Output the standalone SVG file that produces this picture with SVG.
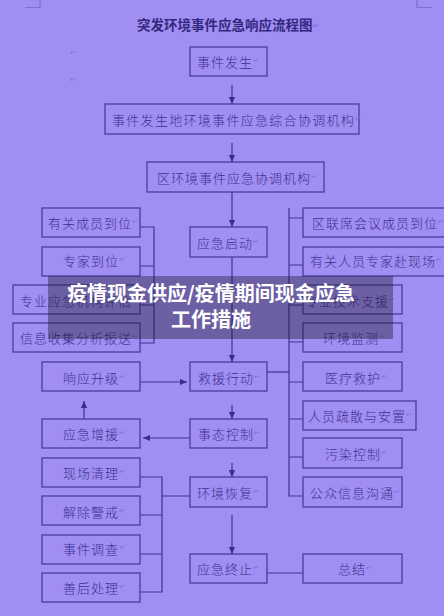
<svg xmlns="http://www.w3.org/2000/svg" width="444" height="616" viewBox="0 0 444 616">
<defs>
<marker id="ah" viewBox="0 0 8 8" refX="8" refY="4" markerWidth="7" markerHeight="7" markerUnits="userSpaceOnUse" orient="auto">
<path d="M0,0.5 L8,4 L0,7.5 z" fill="#3a2d8c"/>
</marker>
<style>
.box{fill:none;stroke:#4a3c9e;stroke-width:1.3}
.t{font-family:"Noto Sans CJK SC","Noto Sans CJK JP",sans-serif;font-size:13px;font-weight:300;fill:#3d3190;letter-spacing:1px;dominant-baseline:central}
.r{font-family:"DejaVu Sans",sans-serif;font-size:7px;fill:#7d6fd0;letter-spacing:0}
.ln{fill:none;stroke:#3f3294;stroke-width:1.2}
.ar{fill:none;stroke:#3f3294;stroke-width:1.2;marker-end:url(#ah)}
.title{font-family:"Noto Sans CJK SC","Noto Sans CJK JP",sans-serif;font-size:13.5px;font-weight:700;fill:#33287e;dominant-baseline:central}
.ban{font-family:"Noto Sans CJK SC","Noto Sans CJK JP",sans-serif;font-size:20px;font-weight:700;fill:#ffffff;text-anchor:middle;dominant-baseline:central}
</style>
</defs>
<rect x="0" y="0" width="444" height="616" fill="#a08ef2"/>
<g id="corners" class="ln" stroke="#7e70cc">
<path d="M25,7.5 H40 V0" stroke="#7e70cc"/>
<path d="M417,0 V7.5 H432" stroke="#7e70cc"/>
</g>
<g id="title"><text class="title" x="137" y="24">突发环境事件应急响应流程图<tspan class="r" dy="2">↵</tspan></text></g>
<g id="marks"><text class="r" x="70" y="55">↵</text><text class="r" x="70" y="82">↵</text></g>

<g id="connectors">
<path class="ar" d="M232,85 V104"/>
<path class="ar" d="M232,143 V162"/>
<path class="ar" d="M232,192 V227"/>
<path class="ar" d="M232,257 V362"/>
<path class="ar" d="M232,405 V419"/>
<path class="ar" d="M232,463 V477"/>
<path class="ar" d="M232,515 V554"/>
<path class="ln" d="M140,227 H154 V343 H140 M140,266 H154 M140,305 H154"/>
<path class="ln" d="M289,208 V496 H303 M289,218 H303 M289,265 H303 M289,305 H303 M289,342 H303 M289,382 H303 M289,419 H303 M289,457 H303"/>
<path class="ln" d="M267,372 H289"/>
<path class="ar" d="M140,382 H187"/>
<path class="ar" d="M190,438 H143"/>
<path class="ar" d="M84,419 V401"/>
<path class="ln" d="M140,477 H162 V592 H140 M140,515 H162 M140,554 H162 M162,496 H190"/>
<path class="ln" d="M267,573 H303"/>
</g>

<g id="n1"><rect class="box" x="190" y="47" width="77" height="29"/><text class="t" x="197" y="61">事件发生<tspan class="r">↵</tspan></text></g>
<g id="n2"><rect class="box" x="105" y="104" width="254" height="30"/><text class="t" x="112" y="119" style="letter-spacing:1.3px">事件发生地环境事件应急综合协调机构<tspan class="r">↵</tspan></text></g>
<g id="n3"><rect class="box" x="147" y="162" width="177" height="30"/><text class="t" x="157" y="177">区环境事件应急协调机构<tspan class="r">↵</tspan></text></g>

<g id="n4"><rect class="box" x="42" y="208" width="98" height="29"/><text class="t" x="48" y="222">有关成员到位<tspan class="r">↵</tspan></text></g>
<g id="n5"><rect class="box" x="42" y="247" width="98" height="29"/><text class="t" x="63" y="260">专家到位<tspan class="r">↵</tspan></text></g>
<g id="n6"><rect class="box" x="13" y="285" width="127" height="29"/><text class="t" x="20" y="300">专业应急机构评估<tspan class="r">↵</tspan></text></g>
<g id="n7"><rect class="box" x="13" y="323" width="127" height="29"/><text class="t" x="20" y="337">信息收集分析报送<tspan class="r">↵</tspan></text></g>

<g id="n8"><rect class="box" x="190" y="227" width="77" height="30"/><text class="t" x="197" y="242">应急启动<tspan class="r">↵</tspan></text></g>

<g id="n9"><rect class="box" x="303" y="208" width="144" height="29"/><text class="t" x="312" y="222">区联席会议成员到位<tspan class="r">↵</tspan></text></g>
<g id="n10"><rect class="box" x="303" y="247" width="144" height="29"/><text class="t" x="310" y="260">有关人员专家赴现场<tspan class="r">↵</tspan></text></g>
<g id="n11"><rect class="box" x="303" y="285" width="99" height="29"/><text class="t" x="305" y="300">专业技术支援<tspan class="r">↵</tspan></text></g>
<g id="n12"><rect class="box" x="303" y="323" width="99" height="29"/><text class="t" x="323" y="337">环境监测<tspan class="r">↵</tspan></text></g>

<g id="n13"><rect class="box" x="42" y="362" width="98" height="29"/><text class="t" x="63" y="377">响应升级<tspan class="r">↵</tspan></text></g>
<g id="n14"><rect class="box" x="190" y="362" width="77" height="29"/><text class="t" x="198" y="377">救援行动<tspan class="r">↵</tspan></text></g>
<g id="n15"><rect class="box" x="303" y="362" width="99" height="29"/><text class="t" x="325" y="377">医疗救护<tspan class="r">↵</tspan></text></g>
<g id="n16"><rect class="box" x="303" y="401" width="113" height="29"/><text class="t" x="308" y="415">人员疏散与安置<tspan class="r">↵</tspan></text></g>
<g id="n17"><rect class="box" x="42" y="419" width="98" height="29"/><text class="t" x="63" y="433">应急增援<tspan class="r">↵</tspan></text></g>
<g id="n18"><rect class="box" x="190" y="419" width="77" height="29"/><text class="t" x="198" y="433">事态控制<tspan class="r">↵</tspan></text></g>
<g id="n19"><rect class="box" x="303" y="438" width="99" height="30"/><text class="t" x="325" y="453">污染控制<tspan class="r">↵</tspan></text></g>
<g id="n20"><rect class="box" x="42" y="458" width="98" height="29"/><text class="t" x="63" y="472">现场清理<tspan class="r">↵</tspan></text></g>
<g id="n21"><rect class="box" x="190" y="477" width="77" height="30"/><text class="t" x="197" y="492">环境恢复<tspan class="r">↵</tspan></text></g>
<g id="n22"><rect class="box" x="303" y="477" width="99" height="30"/><text class="t" x="310" y="492">公众信息沟通<tspan class="r">↵</tspan></text></g>
<g id="n23"><rect class="box" x="42" y="496" width="98" height="29"/><text class="t" x="63" y="511">解除警戒<tspan class="r">↵</tspan></text></g>
<g id="n24"><rect class="box" x="42" y="535" width="98" height="29"/><text class="t" x="63" y="548">事件调查<tspan class="r">↵</tspan></text></g>
<g id="n25"><rect class="box" x="42" y="573" width="98" height="29"/><text class="t" x="63" y="587">善后处理<tspan class="r">↵</tspan></text></g>
<g id="n26"><rect class="box" x="190" y="554" width="77" height="29"/><text class="t" x="197" y="568">应急终止<tspan class="r">↵</tspan></text></g>
<g id="n27"><rect class="box" x="303" y="554" width="99" height="29"/><text class="t" x="338" y="568">总结<tspan class="r">↵</tspan></text></g>

<g id="banner">
<rect x="48" y="276" width="345" height="63" fill="#1e1a30" fill-opacity="0.4"/>
<text class="ban" x="211" y="292">疫情现金供应/疫情期间现金应急</text>
<text class="ban" x="211" y="318">工作措施</text>
</g>
</svg>
